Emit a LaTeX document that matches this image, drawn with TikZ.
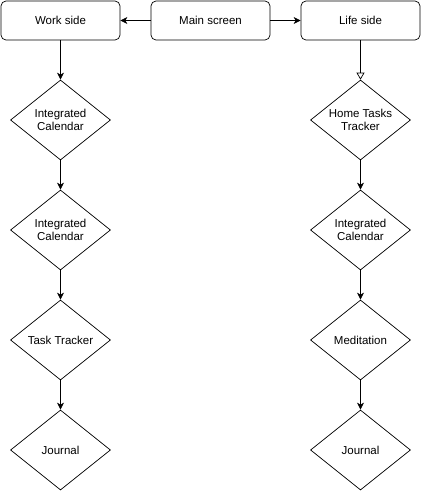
\documentclass[tikz,border=0pt]{standalone}
\usepackage{fontspec}
\setmainfont{Liberation Sans}
\usetikzlibrary{shapes.geometric, arrows.meta}
\begin{document}
\begin{tikzpicture}[x=1pt, y=-1pt, font=\fontsize{11.5}{13.5}\selectfont,
		screen/.style={draw, rounded corners=5pt, line width=0.7pt, minimum width=119pt, minimum height=39pt, inner sep=0pt},
		feature/.style={draw, diamond, aspect=1.25, line width=0.7pt, minimum width=100pt, minimum height=80pt, inner sep=0pt, align=center},
		link/.style={line width=0.7pt, -{Stealth[length=7pt, width=7pt, inset=2pt]}}]
		\useasboundingbox (0,0) rectangle (421,491);
		% \draw[help lines, step=10] (0,0) grid (421,491);

		\node[screen] (main) at (210.5, 20.5) {Main screen};
		\node[screen] (work) at (60.5, 20.5) {Work side};
		\node[screen] (life) at (360.5, 20.5) {Life side};

		\node[feature] (w1) at (60.5, 120) {Integrated\\Calendar};
		\node[feature] (w2) at (60.5, 230) {Integrated\\Calendar};
		\node[feature] (w3) at (60.5, 340) {Task Tracker};
		\node[feature] (w4) at (60.5, 450) {Journal};

		\node[feature] (l1) at (360.5, 120) {Home Tasks\\Tracker};
		\node[feature] (l2) at (360.5, 230) {Integrated\\Calendar};
		\node[feature] (l3) at (360.5, 340) {Meditation};
		\node[feature] (l4) at (360.5, 450) {Journal};

		\draw[link] (main) -- (work);
		\draw[link] (main) -- (life);
		\draw[link] (work) -- (w1);
		\draw[link] (w1) -- (w2);
		\draw[link] (w2) -- (w3);
		\draw[link] (w3) -- (w4);
		\draw[line width=0.7pt, -{Triangle[open, length=7pt, width=8pt]}] (life) -- (l1);
		\draw[link] (l1) -- (l2);
		\draw[link] (l2) -- (l3);
		\draw[link] (l3) -- (l4);
	\end{tikzpicture}
\end{document}
